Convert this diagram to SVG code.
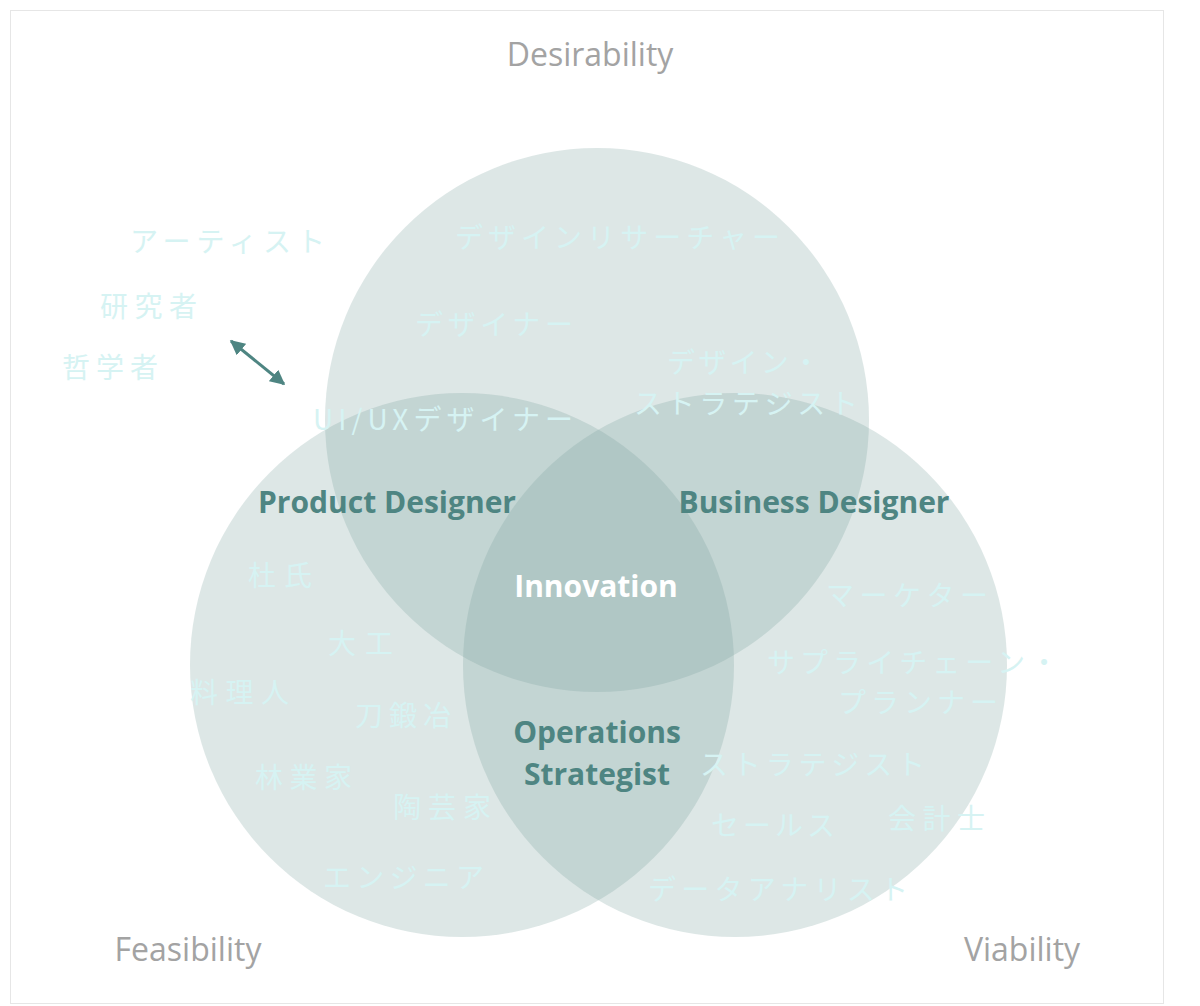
<svg xmlns="http://www.w3.org/2000/svg" width="1200" height="1006" viewBox="0 0 1200 1006">
<style>
.c{fill:#779f9b;fill-opacity:0.25}
.l{font-family:"Noto Sans CJK JP","Noto Sans",sans-serif;font-size:28px;fill:#d6f3f3}
.b{font-family:"Open Sans","Noto Sans",sans-serif;font-weight:bold;font-size:30px;fill:#4e8582;text-anchor:middle}
.g{font-family:"Open Sans","Noto Sans",sans-serif;font-size:32px;fill:#a3a3a3;text-anchor:middle}
</style>
<defs><marker id="a" viewBox="0 0 10 10" refX="9" refY="5" markerWidth="5" markerHeight="5" orient="auto-start-reverse"><path d="M0,0L10,5L0,10z" fill="#4e8582"/></marker></defs>
<rect width="1200" height="1006" fill="#fff"/>
<rect x="10.5" y="10.5" width="1153" height="993" fill="none" stroke="#e6e6e6"/>
<g id="circles"><circle class="c" cx="597" cy="420" r="272"/><circle class="c" cx="462" cy="665" r="272"/><circle class="c" cx="735" cy="665" r="272"/></g>
<g id="connectors"><line x1="231" y1="341" x2="284" y2="384" stroke="#4e8582" stroke-width="3" marker-start="url(#a)" marker-end="url(#a)"/></g>
<g id="labels">
<text class="g" x="590" y="66">Desirability</text>
<text class="g" x="188" y="961">Feasibility</text>
<text class="g" x="1022" y="961">Viability</text>
<text class="b" x="387" y="513">Product Designer</text>
<text class="b" x="814" y="513">Business Designer</text>
<text class="b" x="596" y="597" fill="#fff" style="fill:#fff">Innovation</text>
<text class="b" x="597" y="743">Operations</text>
<text class="b" x="597" y="785">Strategist</text>
</g>
<g id="roles">
<text class="l" x="130" y="252" textLength="195" lengthAdjust="spacing">アーティスト</text>
<text class="l" x="100" y="317" textLength="97" lengthAdjust="spacing">研究者</text>
<text class="l" x="62" y="378" textLength="96" lengthAdjust="spacing">哲学者</text>
<text class="l" x="455" y="248" textLength="325" lengthAdjust="spacing">デザインリサーチャー</text>
<text class="l" x="415" y="335" textLength="158" lengthAdjust="spacing">デザイナー</text>
<text class="l" x="667" y="373" textLength="153" lengthAdjust="spacing">デザイン・</text>
<text class="l" x="634" y="414" textLength="224" lengthAdjust="spacing">ストラテジスト</text>
<text class="l" x="313" y="430" textLength="260" lengthAdjust="spacing">UI/UXデザイナー</text>
<text class="l" x="248" y="586" textLength="64" lengthAdjust="spacing">杜氏</text>
<text class="l" x="328" y="654" textLength="65" lengthAdjust="spacing">大工</text>
<text class="l" x="190" y="703" textLength="99" lengthAdjust="spacing">料理人</text>
<text class="l" x="355" y="726" textLength="96" lengthAdjust="spacing">刀鍛冶</text>
<text class="l" x="255" y="788" textLength="97" lengthAdjust="spacing">林業家</text>
<text class="l" x="393" y="818" textLength="98" lengthAdjust="spacing">陶芸家</text>
<text class="l" x="323" y="888" textLength="161" lengthAdjust="spacing">エンジニア</text>
<text class="l" x="826" y="606" textLength="162" lengthAdjust="spacing">マーケター</text>
<text class="l" x="767" y="673" textLength="291" lengthAdjust="spacing">サプライチェーン・</text>
<text class="l" x="838" y="713" textLength="160" lengthAdjust="spacing">プランナー</text>
<text class="l" x="700" y="775" textLength="225" lengthAdjust="spacing">ストラテジスト</text>
<text class="l" x="711" y="836" textLength="124" lengthAdjust="spacing">セールス</text>
<text class="l" x="888" y="829" textLength="97" lengthAdjust="spacing">会計士</text>
<text class="l" x="648" y="900" textLength="260" lengthAdjust="spacing">データアナリスト</text>
</g>
</svg>
